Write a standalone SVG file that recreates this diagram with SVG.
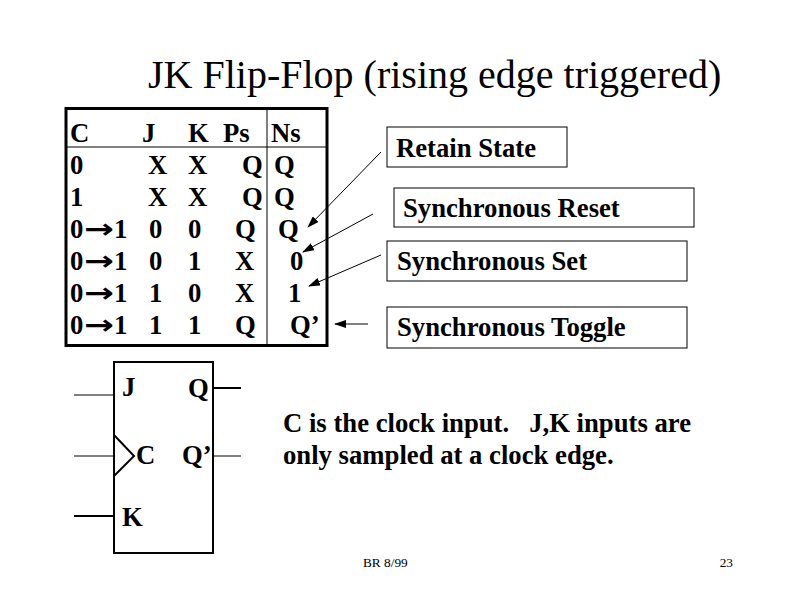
<svg xmlns="http://www.w3.org/2000/svg" width="800" height="600" viewBox="0 0 800 600">
<style>
.t{font-family:"Liberation Serif","Times New Roman",serif;font-weight:bold;font-size:26.7px;fill:#000}
.ttl{font-family:"Liberation Serif","Times New Roman",serif;font-size:40px;fill:#000}
.ft{font-family:"Liberation Serif","Times New Roman",serif;font-size:13.3px;fill:#000}
.box{fill:#fff;stroke:#000;stroke-width:1}
.ln{stroke:#000;fill:none}
.arr{font-family:"DejaVu Sans",sans-serif;font-weight:bold;font-size:26.7px}
</style>
<defs>
<marker id="ah" markerWidth="12" markerHeight="8" refX="11" refY="4" orient="auto" markerUnits="userSpaceOnUse">
<path d="M0,0 L12,4 L0,8 Z" fill="#000"/>
</marker>
</defs>
<rect width="800" height="600" fill="#fff"/>
<text class="ttl" x="148" y="88">JK Flip-Flop (rising edge triggered)</text>

<g id="table">
<rect x="66" y="108.5" width="261" height="237" fill="#fff" stroke="#000" stroke-width="3"/>
<line class="ln" x1="66" y1="147" x2="327" y2="147" stroke-width="1"/>
<line class="ln" x1="267" y1="108" x2="267" y2="346" stroke-width="1"/>
<text class="t" x="70" y="142">C</text>
<text class="t" x="142" y="142">J</text>
<text class="t" x="188" y="142">K</text>
<text class="t" x="223" y="142">Ps</text>
<text class="t" x="271" y="142">Ns</text>

<text class="t" x="70" y="174">0</text>
<text class="t" x="148" y="174">X</text>
<text class="t" x="188" y="174">X</text>
<text class="t" x="242" y="174">Q</text>
<text class="t" x="274" y="174">Q</text>

<text class="t" x="70" y="206">1</text>
<text class="t" x="148" y="206">X</text>
<text class="t" x="188" y="206">X</text>
<text class="t" x="242" y="206">Q</text>
<text class="t" x="274" y="206">Q</text>

<text class="t" x="70" y="238">0</text>
<text class="arr" x="84" y="238" textLength="30" lengthAdjust="spacingAndGlyphs">→</text>
<text class="t" x="114" y="238">1</text>
<text class="t" x="149" y="238">0</text>
<text class="t" x="188" y="238">0</text>
<text class="t" x="235" y="238">Q</text>
<text class="t" x="278" y="238">Q</text>

<text class="t" x="70" y="270">0</text>
<text class="arr" x="84" y="270" textLength="30" lengthAdjust="spacingAndGlyphs">→</text>
<text class="t" x="114" y="270">1</text>
<text class="t" x="149" y="270">0</text>
<text class="t" x="188" y="270">1</text>
<text class="t" x="235" y="270">X</text>
<text class="t" x="290" y="270">0</text>

<text class="t" x="70" y="302">0</text>
<text class="arr" x="84" y="302" textLength="30" lengthAdjust="spacingAndGlyphs">→</text>
<text class="t" x="114" y="302">1</text>
<text class="t" x="149" y="302">1</text>
<text class="t" x="188" y="302">0</text>
<text class="t" x="235" y="302">X</text>
<text class="t" x="288" y="302">1</text>

<text class="t" x="70" y="334">0</text>
<text class="arr" x="84" y="334" textLength="30" lengthAdjust="spacingAndGlyphs">→</text>
<text class="t" x="114" y="334">1</text>
<text class="t" x="149" y="334">1</text>
<text class="t" x="188" y="334">1</text>
<text class="t" x="235" y="334">Q</text>
<text class="t" x="290" y="334">Q’</text>
</g>

<g id="retain">
<rect class="box" x="387" y="127" width="180" height="40"/>
<text class="t" x="396" y="157">Retain State</text>
</g>
<g id="reset">
<rect class="box" x="394" y="188" width="300" height="39"/>
<text class="t" x="403" y="217">Synchronous Reset</text>
</g>
<g id="set">
<rect class="box" x="387" y="241" width="300" height="40"/>
<text class="t" x="397" y="270">Synchronous Set</text>
</g>
<g id="toggle">
<rect class="box" x="387" y="307" width="300" height="41"/>
<text class="t" x="397" y="336">Synchronous Toggle</text>
</g>

<g id="connectors" stroke="#000" stroke-width="1" fill="none">
<line x1="381" y1="152" x2="308" y2="227" marker-end="url(#ah)"/>
<line x1="373" y1="214" x2="303" y2="252" marker-end="url(#ah)"/>
<line x1="381" y1="255" x2="309" y2="286" marker-end="url(#ah)"/>
<line x1="368" y1="324" x2="335" y2="324" marker-end="url(#ah)"/>
</g>

<g id="flipflop">
<rect x="114" y="362" width="99" height="191" fill="#fff" stroke="#000" stroke-width="2"/>
<line class="ln" x1="74" y1="395" x2="114" y2="395" stroke-width="1"/>
<line class="ln" x1="74" y1="456" x2="114" y2="456" stroke-width="1"/>
<line class="ln" x1="74" y1="516" x2="114" y2="516" stroke-width="2"/>
<line class="ln" x1="213" y1="388" x2="241" y2="388" stroke-width="2"/>
<line class="ln" x1="213" y1="456" x2="241" y2="456" stroke-width="1"/>
<polyline class="ln" points="114,435 134,456 114,476" stroke-width="2"/>
<text class="t" x="122" y="396">J</text>
<text class="t" x="188" y="397">Q</text>
<text class="t" x="136" y="464">C</text>
<text class="t" x="182" y="464">Q’</text>
<text class="t" x="122" y="526">K</text>
</g>

<text class="t" xml:space="preserve" x="283" y="432">C is the clock input.   J,K inputs are</text>
<text class="t" x="283" y="464">only sampled at a clock edge.</text>

<text class="ft" x="363" y="567">BR 8/99</text>
<text class="ft" x="733" y="567" text-anchor="end">23</text>
</svg>
